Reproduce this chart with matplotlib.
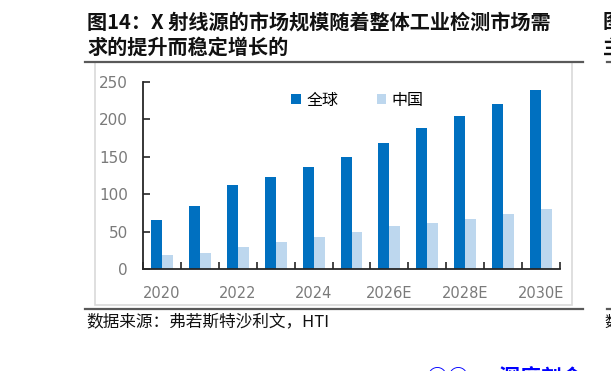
import matplotlib
matplotlib.use("Agg")
import matplotlib.pyplot as plt
import numpy as np
from matplotlib.patches import Rectangle
from matplotlib.lines import Line2D

plt.rcParams["font.family"] = ["Noto Sans CJK SC", "DejaVu Sans"]

# data
years = ["2020", "2021", "2022", "2023", "2024", "2025E",
         "2026E", "2027E", "2028E", "2029E", "2030E"]
global_vals = [65, 84, 112, 123, 137, 150, 169, 188, 204, 221, 239]
china_vals = [19, 22, 30, 36, 43, 49, 57, 62, 67, 73, 80]
series_names = ["全球", "中国"]
colors = ["#0070C0", "#BDD7EE"]

W, H = 611, 371
fig = plt.figure(figsize=(W / 100, H / 100), dpi=100)


def fx(px):
    return px / W


def fy(py):
    return 1 - py / H


# chart frame and rules
fig.patches.append(Rectangle((fx(95), fy(305)), fx(572) - fx(95), fy(62) - fy(305),
                             transform=fig.transFigure, fill=False,
                             edgecolor="#d9d9d9", linewidth=1.2))
for yy in (62, 309):
    fig.lines.append(Line2D([fx(85), fx(583)], [fy(yy), fy(yy)],
                            transform=fig.transFigure, color="#595959", lw=1.6))
    fig.lines.append(Line2D([fx(607), fx(640)], [fy(yy), fy(yy)],
                            transform=fig.transFigure, color="#595959", lw=1.6))

# title
fig.text(fx(87), fy(22), "图14：X 射线源的市场规模随着整体工业检测市场需",
         fontsize=14.5, fontweight="bold", va="center", ha="left", color="#111111")
fig.text(fx(87), fy(47), "求的提升而稳定增长的",
         fontsize=14.5, fontweight="bold", va="center", ha="left", color="#111111")

# neighbouring figure, clipped at the right edge like in the page
fig.text(fx(603), fy(22), "图15", fontsize=14.5, fontweight="bold", va="center", color="#111111")
fig.text(fx(603), fy(47), "主", fontsize=14.5, fontweight="bold", va="center", color="#111111")
fig.text(fx(604), fy(322), "数据", fontsize=11, va="center", color="#111111")

# source
fig.text(fx(86), fy(322), "数据来源：弗若斯特沙利文，HTI",
         fontsize=12, va="center", ha="left", color="#111111")

# watermark, mostly cut off at the bottom
fig.text(fx(427), fy(368), "○○ · 深度剖会 ··", fontsize=15, fontweight="bold",
         va="top", ha="left", color="#0000ff")

ax = fig.add_axes([fx(143), fy(269), fx(560) - fx(143), fy(82) - fy(269)])
x = np.arange(len(years))
bw = 0.29
ax.bar(x - bw / 2, global_vals, width=bw, color=colors[0], label=series_names[0])
ax.bar(x + bw / 2, china_vals, width=bw, color=colors[1], label=series_names[1])

ax.set_xlim(-0.5, len(years) - 0.5)
ax.set_ylim(0, 250)
ax.set_yticks(np.arange(0, 251, 50))
ax.set_xticks(x[::2])
ax.set_xticklabels(years[::2])
ax.set_xticks(np.arange(-0.5, len(years), 1), minor=True)

for s in ("top", "right"):
    ax.spines[s].set_visible(False)
for s in ("left", "bottom"):
    ax.spines[s].set_color("#262626")
    ax.spines[s].set_linewidth(1.3)

ax.tick_params(axis="y", direction="in", length=5, width=1.2, color="#262626",
               pad=11, labelsize=11, labelcolor="#7a7a7a")
ax.tick_params(axis="x", which="major", length=0, pad=12, labelsize=10.5,
               labelcolor="#7a7a7a")
ax.tick_params(axis="x", which="minor", direction="in", length=5, width=1.2,
               color="#262626")
for lab in ax.get_xticklabels() + ax.get_yticklabels():
    lab.set_family("DejaVu Sans")

fig.legend(loc="upper left", bbox_to_anchor=(fx(291), fy(92)), ncol=2,
           frameon=False, fontsize=11.5, handlelength=0.6, handleheight=0.6,
           handletextpad=0.35, columnspacing=2.4, borderpad=0, borderaxespad=0)

fig.savefig("out.png", dpi=100)
